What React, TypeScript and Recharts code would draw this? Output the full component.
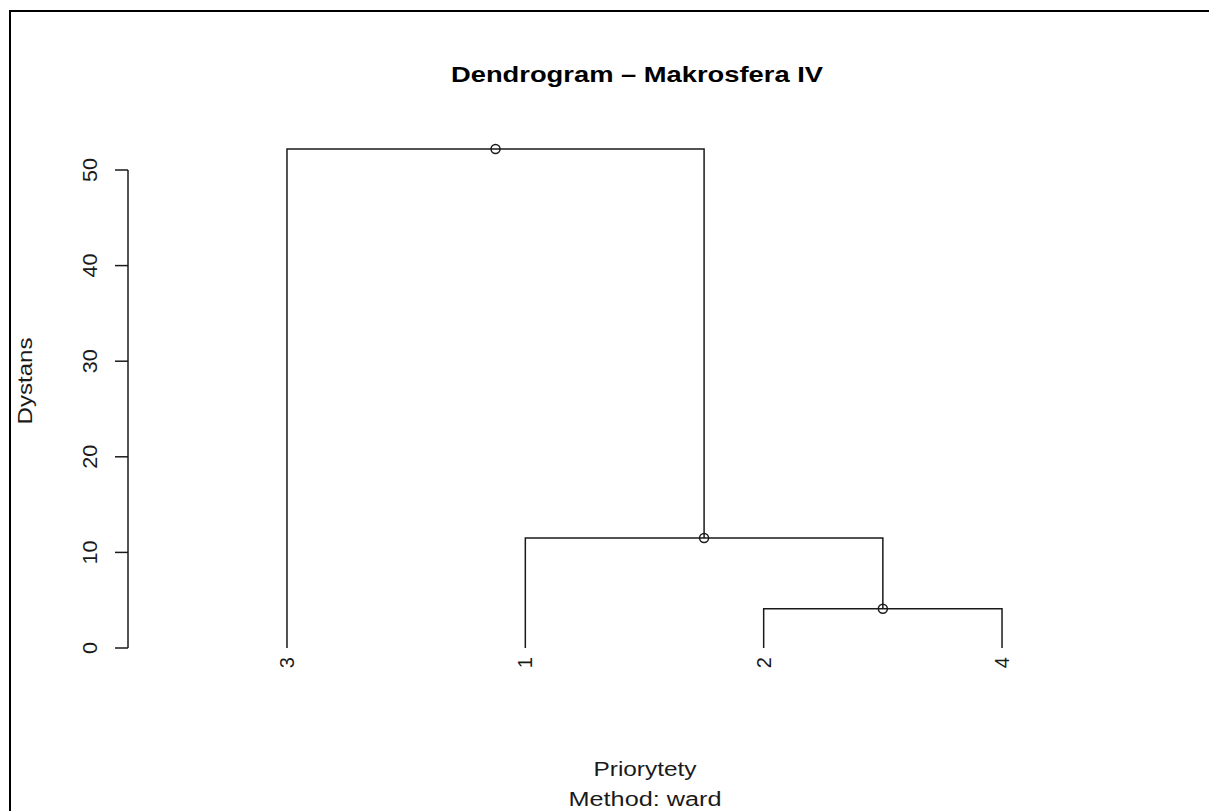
import React from 'react';
import { ComposedChart, Line, Scatter, XAxis, YAxis, ReferenceLine } from 'recharts';

// Leaves in dendrogram order and their positions on the x scale
const leafLabels = ['3', '1', '2', '4'];
const leafPositions = [1, 2, 3, 4];
// Merge table (hclust style): negative = leaf (1-based position), positive = earlier merge
const mergeLeft = [-3, -2, -1];
const mergeRight = [-4, 1, 2];
const mergeHeights = [4.1, 11.5, 52.2];
const yTicks = [0, 10, 20, 30, 40, 50];

const chartTitle = 'Dendrogram – Makrosfera IV';
const yTitle = 'Dystans';
const xTitle = 'Priorytety';
const subTitle = 'Method:  ward';

const X_DOMAIN: [number, number] = [0.333, 4.667];
const Y_DOMAIN: [number, number] = [-2, 54];
const INK = '#1a1a1a';
const FONT = '"Liberation Sans", Arial, Helvetica, sans-serif';

type Pt = { x: number; y: number };
const nodes: { x: number; h: number }[] = [];
const links: Pt[][] = [];
const posOf = (id: number) =>
  id < 0 ? { x: leafPositions[-id - 1], h: 0 } : nodes[id - 1];
mergeHeights.forEach((h, i) => {
  const l = posOf(mergeLeft[i]);
  const r = posOf(mergeRight[i]);
  nodes.push({ x: (l.x + r.x) / 2, h });
  links.push([
    { x: l.x, y: l.h },
    { x: l.x, y: h },
    { x: r.x, y: h },
    { x: r.x, y: r.h },
  ]);
});
const nodePoints: Pt[] = nodes.map((n) => ({ x: n.x, y: n.h }));

const YTick = (props: any) => {
  const { x, y, payload } = props;
  const s = String(payload.value);
  return (
    <text
      x={x}
      y={y}
      transform={`rotate(-90, ${x}, ${y})`}
      textAnchor="middle"
      fontFamily={FONT}
      fontSize={21}
      fill={INK}
      textLength={s.length * 12}
      lengthAdjust="spacingAndGlyphs"
    >
      {s}
    </text>
  );
};

const XTick = (props: any) => {
  const { x, y, payload } = props;
  const idx = leafPositions.indexOf(payload.value);
  const label = idx >= 0 ? leafLabels[idx] : '';
  const ty = y - 10;
  return (
    <text
      x={x}
      y={ty}
      transform={`rotate(-90, ${x}, ${ty})`}
      textAnchor="end"
      dy="0.35em"
      fontFamily={FONT}
      fontSize={20}
      fill={INK}
    >
      {label}
    </text>
  );
};

const NodeDot = (props: any) => {
  const { cx, cy } = props;
  return <circle cx={cx} cy={cy} r={4.5} fill="none" stroke={INK} strokeWidth={1.5} />;
};

export default function App() {
  return (
    <div style={{ position: 'absolute', left: 0, top: 0, width: 1209, height: 811, background: '#fff' }}>
      <ComposedChart
        width={1209}
        height={811}
        margin={{ top: 131.76, right: 48, bottom: 123.88, left: 0 }}
      >
        <XAxis
          type="number"
          dataKey="x"
          domain={X_DOMAIN}
          allowDataOverflow
          ticks={leafPositions}
          interval={0}
          axisLine={false}
          tickLine={false}
          tickSize={0}
          tickMargin={0}
          height={20}
          tick={<XTick />}
        />
        <YAxis
          type="number"
          dataKey="y"
          domain={Y_DOMAIN}
          allowDataOverflow
          ticks={yTicks}
          interval={0}
          width={128}
          axisLine={false}
          tickLine={{ stroke: INK, strokeWidth: 1.5 }}
          tickSize={13}
          tickMargin={18}
          tick={<YTick />}
        />
        <ReferenceLine
          segment={[{ x: X_DOMAIN[0], y: yTicks[0] }, { x: X_DOMAIN[0], y: yTicks[yTicks.length - 1] }]}
          stroke={INK}
          strokeWidth={1.5}
          ifOverflow="visible"
        />
        {links.map((seg, i) => (
          <Line
            key={i}
            data={seg}
            dataKey="y"
            type="linear"
            stroke={INK}
            strokeWidth={1.5}
            dot={false}
            activeDot={false}
            isAnimationActive={false}
          />
        ))}
        <Scatter data={nodePoints} dataKey="y" shape={<NodeDot />} isAnimationActive={false} />
      </ComposedChart>
      <svg
        width={1209}
        height={811}
        style={{ position: 'absolute', left: 0, top: 0, pointerEvents: 'none' }}
      >
        <path d="M10,811 L10,11 L1209,11" fill="none" stroke="#000" strokeWidth={2} />
        <text
          x={637}
          y={82}
          textAnchor="middle"
          fontFamily={FONT}
          fontWeight="bold"
          fontSize={22}
          fill="#000"
          textLength={372}
          lengthAdjust="spacingAndGlyphs"
        >
          {chartTitle}
        </text>
        <text
          x={32}
          y={381}
          transform="rotate(-90, 32, 381)"
          textAnchor="middle"
          fontFamily={FONT}
          fontSize={20}
          fill={INK}
          textLength={87}
          lengthAdjust="spacingAndGlyphs"
        >
          {yTitle}
        </text>
        <text
          x={645}
          y={776}
          textAnchor="middle"
          fontFamily={FONT}
          fontSize={20}
          fill={INK}
          textLength={103}
          lengthAdjust="spacingAndGlyphs"
        >
          {xTitle}
        </text>
        <text
          x={645}
          y={806}
          textAnchor="middle"
          fontFamily={FONT}
          fontSize={20}
          fill={INK}
          textLength={153}
          lengthAdjust="spacingAndGlyphs"
        >
          {subTitle}
        </text>
      </svg>
    </div>
  );
}
